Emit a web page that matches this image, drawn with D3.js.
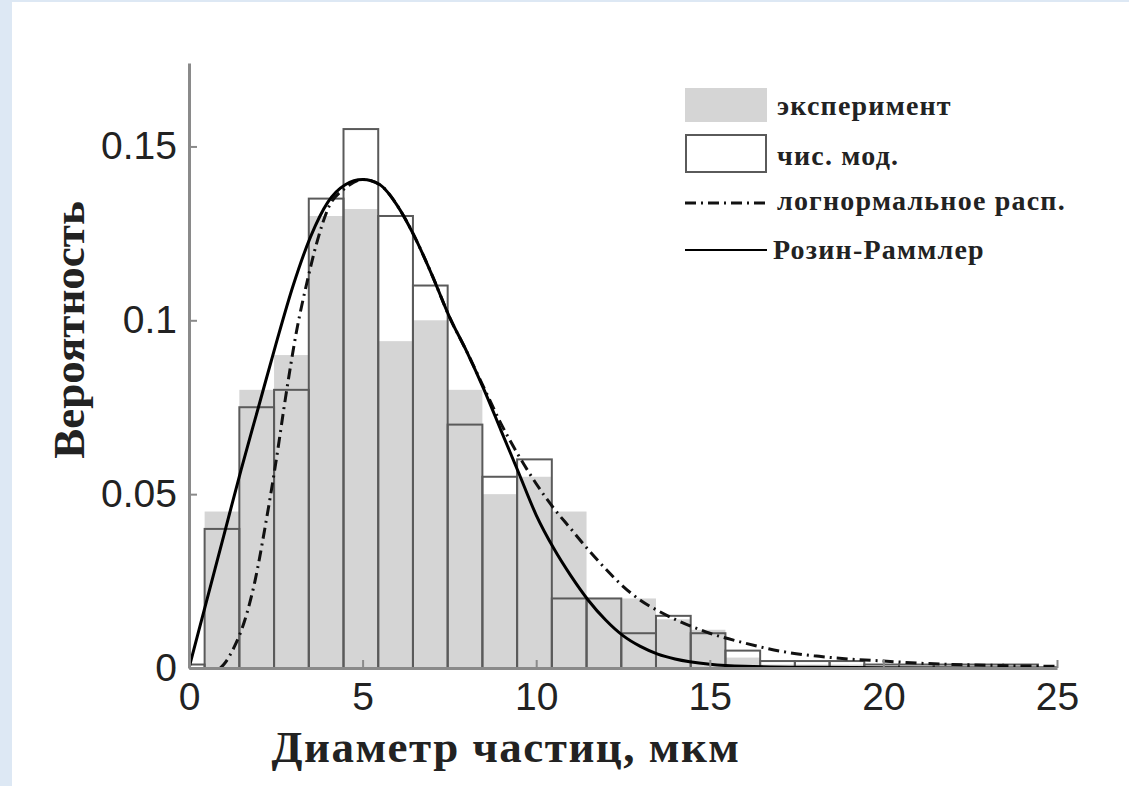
<!DOCTYPE html>
<html>
<head>
<meta charset="utf-8">
<script src="https://cdn.jsdelivr.net/npm/d3@7"></script>
<style>
  body { margin: 0; background: #dde8f4; }
  svg { display: block; }
</style>
</head>
<body>
<figure id="chart" style="margin:0"></figure>
<script>
// histogram bins (particle diameter, um)
const binCenters = [0, 1, 2, 3, 4, 5, 6, 7, 8, 9, 10, 11, 12, 13, 14, 15, 16, 17, 18, 19, 20, 21, 22, 23, 24];
const experiment = [0, 0.045, 0.08, 0.09, 0.13, 0.132, 0.094, 0.1, 0.08, 0.05, 0.055, 0.045, 0.02, 0.02, 0.014, 0.011, 0.003, 0.001, 0.001, 0.001, 0, 0, 0, 0, 0];
const numModel = [0.001, 0.04, 0.075, 0.08, 0.135, 0.155, 0.13, 0.11, 0.07, 0.055, 0.06, 0.02, 0.02, 0.01, 0.015, 0.01, 0.005, 0.002, 0.002, 0.002, 0.001, 0.001, 0.001, 0.001, 0.001];

// fitted curves
const rosinX = [0, 0.5, 1, 1.5, 2, 2.5, 3, 3.5, 4, 4.5, 5, 5.5, 6, 6.5, 7, 7.5, 8, 8.5, 9, 9.5, 10, 10.5, 11, 11.5, 12, 12.5, 13, 13.5, 14, 15, 16, 18, 20, 25];
const rosinY = [0, 0.019, 0.038, 0.057, 0.075, 0.093, 0.11, 0.124, 0.134, 0.139, 0.1405, 0.139, 0.133, 0.124, 0.113, 0.101, 0.091, 0.08, 0.068, 0.056, 0.044, 0.0345, 0.0265, 0.0195, 0.0138, 0.0093, 0.0062, 0.004, 0.0026, 0.0011, 0.0005, 0.0002, 0.0001, 0];
const lognX = [0.9, 1.0, 1.3, 1.6, 1.9, 2.2, 2.5, 2.8, 3.1, 3.4, 3.7, 4.0, 4.5, 5, 5.5, 6, 6.5, 7, 7.5, 8, 8.5, 9, 9.5, 10, 10.5, 11, 11.5, 12, 12.5, 13, 13.5, 14, 15, 16, 17, 18, 19, 20, 21, 22, 23, 24, 25];
const lognY = [0, 0.001, 0.006, 0.0135, 0.025, 0.041, 0.059, 0.079, 0.097, 0.111, 0.123, 0.132, 0.138, 0.1405, 0.139, 0.133, 0.124, 0.113, 0.101, 0.091, 0.0805, 0.07, 0.061, 0.053, 0.046, 0.04, 0.034, 0.0285, 0.0235, 0.0195, 0.0165, 0.014, 0.01, 0.0072, 0.0049, 0.0035, 0.0026, 0.002, 0.0014, 0.001, 0.0008, 0.0006, 0.0005];

const xTicks = [0, 5, 10, 15, 20, 25];
const yTicks = [0, 0.05, 0.1, 0.15];
const legendLabels = ["эксперимент", "чис. мод.", "логнормальное расп.", "Розин-Раммлер"];

const W = 1129, H = 786;
const plotL = 189, plotR = 1057, plotT = 63, plotB = 668;
const binShift = -0.05;

const svg = d3.select("figure#chart")
  .append("svg")
  .attr("width", W)
  .attr("height", H);

svg.append("rect").attr("width", W).attr("height", H).attr("fill", "#dde8f4");
svg.append("rect").attr("x", 12).attr("y", 2).attr("width", W - 12).attr("height", H - 2).attr("fill", "#fff");

const x = d3.scaleLinear().domain([0, 25]).range([plotL, plotR]);
const y = d3.scaleLinear().domain([0, 0.174]).range([plotB, plotT]);

svg.append("clipPath").attr("id", "plot")
  .append("rect").attr("x", plotL).attr("y", plotT).attr("width", plotR - plotL).attr("height", plotB - plotT);

const plot = svg.append("g").attr("clip-path", "url(#plot)");

const binL = c => x(Math.max(0, c - 0.5 + binShift));
const binR = c => x(c + 0.5 + binShift);

plot.selectAll("rect.exp")
  .data(binCenters)
  .enter()
  .append("rect")
  .attr("class", "exp")
  .attr("x", c => binL(c))
  .attr("width", c => binR(c) - binL(c))
  .attr("y", (c, i) => y(experiment[i]))
  .attr("height", (c, i) => plotB - y(experiment[i]))
  .attr("fill", "#d5d5d5");

plot.selectAll("rect.mod")
  .data(binCenters)
  .enter()
  .append("rect")
  .attr("class", "mod")
  .attr("x", c => binL(c))
  .attr("width", c => binR(c) - binL(c))
  .attr("y", (c, i) => y(numModel[i]))
  .attr("height", (c, i) => plotB - y(numModel[i]))
  .attr("fill", "none")
  .attr("stroke", "#5a5a5a")
  .attr("stroke-width", 2);

const line = d3.line()
  .x(d => x(d[0]))
  .y(d => y(d[1]))
  .curve(d3.curveMonotoneX);

plot.append("path")
  .datum(lognX.map((v, i) => [v, lognY[i]]))
  .attr("d", line)
  .attr("fill", "none")
  .attr("stroke", "#111")
  .attr("stroke-width", 3)
  .attr("stroke-dasharray", "11,5,2,5");

plot.append("path")
  .datum(rosinX.map((v, i) => [v, rosinY[i]]))
  .attr("d", line)
  .attr("fill", "none")
  .attr("stroke", "#000")
  .attr("stroke-width", 3);

// axes
const xAxis = svg.append("g")
  .attr("transform", "translate(0," + plotB + ")")
  .call(d3.axisBottom(x).tickValues(xTicks).tickSize(-8).tickSizeOuter(0).tickPadding(14));

const yAxis = svg.append("g")
  .attr("transform", "translate(" + plotL + ",0)")
  .call(d3.axisLeft(y).tickValues(yTicks).tickFormat(d => String(d)).tickSize(-8).tickSizeOuter(0).tickPadding(12));

[xAxis, yAxis].forEach(a => {
  a.select(".domain").attr("stroke", "#8a8a8a").attr("stroke-width", 3);
  a.selectAll(".tick line").attr("stroke", "#8a8a8a").attr("stroke-width", 2);
  a.selectAll(".tick text")
    .attr("fill", "#222")
    .style("font-family", "'Liberation Sans', Arial, sans-serif")
    .style("font-size", "39px");
});

svg.append("text")
  .attr("transform", "translate(84,330) rotate(-90)")
  .attr("text-anchor", "middle")
  .attr("fill", "#222")
  .style("font-family", "'Liberation Serif', serif")
  .style("font-weight", "bold")
  .style("font-size", "45px")
  .text("Вероятность");

svg.append("text")
  .attr("x", 506)
  .attr("y", 762)
  .attr("text-anchor", "middle")
  .attr("fill", "#222")
  .style("font-family", "'Liberation Serif', serif")
  .style("font-weight", "bold")
  .style("font-size", "45px")
  .style("letter-spacing", "1.5px")
  .text("Диаметр частиц, мкм");

// legend
const lg = svg.append("g");
const sw0 = 685, sw1 = 767, tx = 777;
const rowY = [106, 156, 201, 250];

lg.append("rect").attr("x", sw0).attr("y", 88).attr("width", sw1 - sw0).attr("height", 34).attr("fill", "#d5d5d5");
lg.append("rect").attr("x", sw0 + 1).attr("y", 135).attr("width", sw1 - sw0 - 2).attr("height", 37)
  .attr("fill", "#fff").attr("stroke", "#5a5a5a").attr("stroke-width", 2);
lg.append("line").attr("x1", sw0).attr("x2", sw1).attr("y1", 203).attr("y2", 203)
  .attr("stroke", "#111").attr("stroke-width", 3).attr("stroke-dasharray", "11,5,2,5");
lg.append("line").attr("x1", sw0).attr("x2", sw1).attr("y1", 250).attr("y2", 250)
  .attr("stroke", "#000").attr("stroke-width", 2);

lg.selectAll("text.lab")
  .data(legendLabels)
  .enter()
  .append("text")
  .attr("class", "lab")
  .attr("x", (d, i) => i === 3 ? tx - 4 : tx)
  .attr("y", (d, i) => rowY[i])
  .attr("dy", "0.32em")
  .attr("fill", "#222")
  .style("font-family", "'Liberation Serif', serif")
  .style("font-weight", "bold")
  .style("font-size", "28px")
  .style("letter-spacing", "1.2px")
  .text(d => d);
</script>
</body>
</html>
